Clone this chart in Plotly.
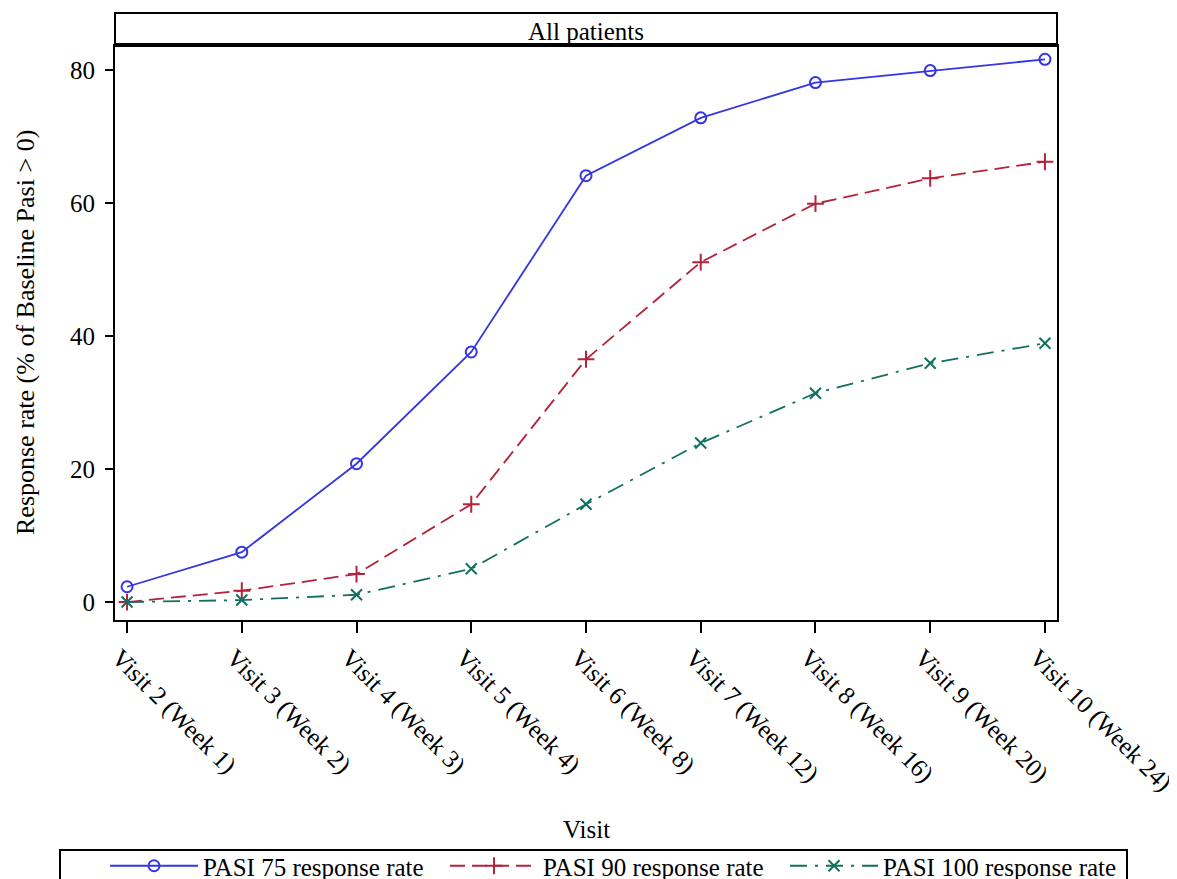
import plotly.graph_objects as go

visits = ["Visit 2 (Week 1)", "Visit 3 (Week 2)", "Visit 4 (Week 3)", "Visit 5 (Week 4)",
          "Visit 6 (Week 8)", "Visit 7 (Week 12)", "Visit 8 (Week 16)", "Visit 9 (Week 20)",
          "Visit 10 (Week 24)"]
pasi75 = [2.3, 7.5, 20.8, 37.6, 64.1, 72.8, 78.1, 79.9, 81.6]
pasi90 = [0.0, 1.7, 4.2, 14.7, 36.5, 51.1, 59.9, 63.7, 66.2]
pasi100 = [0.0, 0.3, 1.1, 5.0, 14.7, 23.9, 31.4, 35.9, 38.9]
y_ticks = [0, 20, 40, 60, 80]

FONT = "Liberation Serif, Times New Roman, serif"
TXT = 25

fig = go.Figure()
fig.add_trace(go.Scatter(
    x=visits, y=pasi75, mode="lines+markers", name="PASI 75 response rate",
    line=dict(color="#3535E6", width=1.8),
    marker=dict(symbol="circle-open", size=11, color="#3535E6", line=dict(width=2))))
fig.add_trace(go.Scatter(
    x=visits, y=pasi90, mode="lines+markers", name="PASI 90 response rate",
    line=dict(color="#B5223C", width=1.8, dash="15px,7px"),
    marker=dict(symbol="cross-thin-open", size=12, color="#B5223C", line=dict(width=2, color="#B5223C"))))
fig.add_trace(go.Scatter(
    x=visits, y=pasi100, mode="lines+markers", name="PASI 100 response rate",
    line=dict(color="#12705F", width=1.8, dash="17px,8px,3px,8px"),
    marker=dict(symbol="x-thin-open", size=11, color="#12705F", line=dict(width=2, color="#12705F"))))

fig.update_layout(
    width=1177, height=879,
    margin=dict(l=107, r=128, t=38, b=267, autoexpand=False),
    paper_bgcolor="white", plot_bgcolor="white",
    font=dict(family=FONT, size=TXT, color="black"),
    showlegend=True,
    legend=dict(orientation="h", x=-0.0106, xanchor="left", y=-0.4286, yanchor="middle",
                font=dict(family=FONT, size=TXT, color="black"),
                bgcolor="rgba(0,0,0,0)", borderwidth=0,
                entrywidth=237, entrywidthmode="pixels", itemwidth=88,
                tracegroupgap=0),
    xaxis=dict(
        type="category", range=[-0.105, 8.105], automargin=False,
        showline=True, linecolor="black", linewidth=2, mirror=True,
        ticks="outside", ticklen=11, tickwidth=2, tickcolor="black",
        tickangle=45, ticklabelshift=-8, tickfont=dict(family=FONT, size=TXT),
        showgrid=False, zeroline=False),
    yaxis=dict(
        range=[-2.7, 83.6], tickvals=y_ticks, automargin=False,
        showline=True, linecolor="black", linewidth=2, mirror=True,
        ticks="outside", ticklen=8, tickwidth=2, tickcolor="black",
        ticklabelstandoff=5,
        tickfont=dict(family=FONT, size=TXT),
        showgrid=False, zeroline=False),
    shapes=[
        dict(type="rect", xref="paper", yref="paper", x0=0, x1=1, y0=1, y1=1 + 33 / 574,
             line=dict(color="black", width=2), fillcolor="white", layer="above"),
        dict(type="line", xref="paper", yref="paper", x0=0, x1=1, y0=1 + 1 / 574, y1=1 + 1 / 574,
             line=dict(color="black", width=4), layer="above"),
        dict(type="rect", xref="paper", yref="paper",
             x0=(60 - 115) / 942, x1=(1127 - 115) / 942,
             y0=(620 - 900) / 574, y1=(620 - 850) / 574,
             line=dict(color="black", width=2), fillcolor="rgba(0,0,0,0)"),
    ],
    annotations=[
        dict(text="All patients", xref="paper", yref="paper", x=0.5, y=1 + 15 / 574,
             xanchor="center", yanchor="middle", showarrow=False,
             font=dict(family=FONT, size=TXT, color="black")),
        dict(text="Visit", xref="paper", yref="paper", x=0.5, y=(620 - 829) / 574,
             xanchor="center", yanchor="middle", showarrow=False,
             font=dict(family=FONT, size=TXT, color="black")),
        dict(text="Response rate (% of Baseline Pasi > 0)", xref="paper", yref="paper",
             x=(25 - 115) / 942, y=0.5, xanchor="center", yanchor="middle", textangle=-90,
             showarrow=False, font=dict(family=FONT, size=26, color="black")),
    ],
)

fig.write_html("out.html")
